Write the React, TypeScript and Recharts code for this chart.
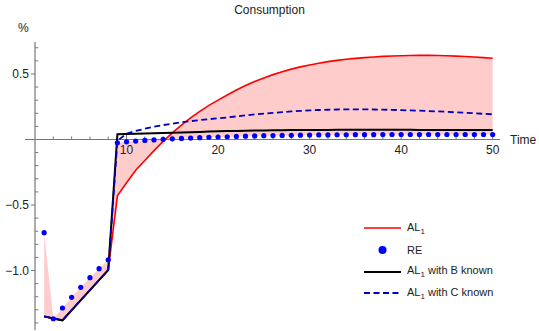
import { ComposedChart, Area, Line, XAxis, YAxis, ReferenceLine, ReferenceDot } from "recharts";

const time = [
  1, 2, 3, 4, 5, 6, 7, 8, 9, 10, 11, 12, 13, 14, 15, 16, 17, 18, 19, 20, 21, 22, 23, 24, 25,
  26, 27, 28, 29, 30, 31, 32, 33, 34, 35, 36, 37, 38, 39, 40, 41, 42, 43, 44, 45, 46, 47, 48, 49, 50,
];

// AL1
const al1 = [
  -1.35, -1.366, -1.38, -1.303, -1.226, -1.15, -1.073, -0.996, -0.43, -0.33,
  -0.235, -0.16, -0.085, -0.015, 0.05, 0.11, 0.165, 0.215, 0.26, 0.3,
  0.34, 0.378, 0.412, 0.443, 0.47, 0.495, 0.517, 0.537, 0.554, 0.569,
  0.582, 0.594, 0.604, 0.612, 0.619, 0.625, 0.63, 0.634, 0.637, 0.639,
  0.641, 0.642, 0.642, 0.641, 0.639, 0.636, 0.633, 0.629, 0.625, 0.62,
];

// RE
const re = [
  -0.711, -1.368, -1.286, -1.205, -1.128, -1.055, -0.986, -0.918, -0.025, -0.018,
  -0.012, -0.007, -0.003, 0.001, 0.005, 0.008, 0.011, 0.014, 0.017, 0.019,
  0.021, 0.023, 0.025, 0.027, 0.029, 0.03, 0.031, 0.032, 0.033, 0.034,
  0.035, 0.035, 0.036, 0.036, 0.037, 0.037, 0.037, 0.038, 0.038, 0.038,
  0.038, 0.038, 0.038, 0.038, 0.038, 0.038, 0.038, 0.038, 0.038, 0.038,
];

// AL1 with B known
const bKnown = [
  -1.35, -1.366, -1.38, -1.303, -1.226, -1.15, -1.073, -0.996, 0.04, 0.042,
  0.044, 0.046, 0.048, 0.05, 0.052, 0.054, 0.056, 0.058, 0.06, 0.062,
  0.064, 0.065, 0.067, 0.068, 0.069, 0.07, 0.071, 0.072, 0.072, 0.073,
  0.073, 0.073, 0.074, 0.074, 0.074, 0.074, 0.074, 0.074, 0.074, 0.074,
  0.074, 0.073, 0.073, 0.073, 0.073, 0.072, 0.072, 0.072, 0.072, 0.072,
];

// AL1 with C known
const cKnown = [
  -1.35, -1.366, -1.38, -1.303, -1.226, -1.15, -1.073, -0.996, -0.01, 0.045,
  0.065, 0.082, 0.097, 0.11, 0.121, 0.131, 0.14, 0.148, 0.155, 0.162,
  0.168, 0.176, 0.184, 0.191, 0.197, 0.203, 0.209, 0.214, 0.218, 0.222,
  0.225, 0.227, 0.229, 0.23, 0.23, 0.23, 0.229, 0.228, 0.226, 0.224,
  0.222, 0.22, 0.217, 0.214, 0.211, 0.207, 0.204, 0.2, 0.196, 0.192,
];

const xMajor = [10, 20, 30, 40, 50];
const xMinor = [2, 4, 6, 8, 12, 14, 16, 18, 22, 24, 26, 28, 32, 34, 36, 38, 42, 44, 46, 48];
const yMajor = [-1, -0.5, 0.5];
const yMinor = [-1.4, -1.3, -1.2, -1.1, -0.9, -0.8, -0.7, -0.6, -0.4, -0.3, -0.2, -0.1, 0.1, 0.2, 0.3, 0.4, 0.6, 0.7];

const data = time.map((t, i) => ({
  t,
  al1: al1[i],
  re: re[i],
  bKnown: bKnown[i],
  cKnown: cKnown[i],
  band: [re[i], al1[i]],
}));

const font = "'Liberation Sans', Arial, sans-serif";
const axisColor = "#777";
const textColor = "#222";

const fmt = (v: number) => (v < 0 ? "\u2212" + Math.abs(v).toFixed(1) : v.toFixed(1));

function LegendRow({ kind, label }: { kind: string; label: React.ReactNode }) {
  return (
    <div style={{ display: "flex", alignItems: "center", height: 21.7 }}>
      <svg width={37} height={10} style={{ marginRight: 6 }}>
        {kind === "red" && <line x1={0} y1={5} x2={37} y2={5} stroke="#ff0000" strokeWidth={1.6} />}
        {kind === "dot" && <circle cx={18.5} cy={5} r={4} fill="#0000ff" />}
        {kind === "black" && <line x1={0} y1={5} x2={37} y2={5} stroke="#000" strokeWidth={2} />}
        {kind === "dash" && (
          <line x1={0} y1={5} x2={37} y2={5} stroke="#0000b8" strokeWidth={1.8} strokeDasharray="6 3.5" />
        )}
      </svg>
      <span>{label}</span>
    </div>
  );
}

const AL = (
  <>
    AL<sub style={{ fontSize: 8, verticalAlign: "-3px" }}>1</sub>
  </>
);

export default function App() {
  return (
    <div
      style={{
        position: "absolute",
        left: 0,
        top: 0,
        width: 539,
        height: 331,
        background: "#fff",
        fontFamily: font,
        color: textColor,
      }}
    >
      <div style={{ position: "absolute", top: 3, left: 0, width: 539, textAlign: "center", fontSize: 12, lineHeight: "14px" }}>
        Consumption
      </div>
      <div style={{ position: "absolute", top: 21, left: 18, fontSize: 12, lineHeight: "14px" }}>%</div>

      <ComposedChart width={539} height={331} data={data} margin={{ top: 42, right: 39, bottom: 1, left: 0 }}>
        <XAxis dataKey="t" type="number" domain={[0, 50.8]} hide />
        <YAxis
          type="number"
          domain={[-1.454, 0.744]}
          ticks={yMajor}
          tickFormatter={fmt}
          width={35}
          tickSize={4}
          tickMargin={2}
          axisLine={{ stroke: axisColor, strokeWidth: 1.2 }}
          tickLine={{ stroke: axisColor }}
          tick={{ fontSize: 12, fill: textColor, fontFamily: font }}
          allowDataOverflow
        />

        <Area dataKey="band" stroke="none" fill="#ff0000" fillOpacity={0.2} isAnimationActive={false} />

        <ReferenceLine
          segment={[{ x: -1.1, y: 0 }, { x: 50.8, y: 0 }]}
          stroke={axisColor}
          strokeWidth={1.2}
          ifOverflow="visible"
        />
        {yMinor.map((v) => (
          <ReferenceLine key={"ym" + v} segment={[{ x: 0, y: v }, { x: 0.35, y: v }]} stroke={axisColor} ifOverflow="visible" />
        ))}
        {xMinor.map((v) => (
          <ReferenceLine key={"xm" + v} segment={[{ x: v, y: 0 }, { x: v, y: 0.023 }]} stroke={axisColor} ifOverflow="visible" />
        ))}
        {xMajor.map((v) => (
          <ReferenceLine key={"xM" + v} segment={[{ x: v, y: 0 }, { x: v, y: 0.04 }]} stroke={axisColor} ifOverflow="visible" />
        ))}
        {xMajor.map((v) => (
          <ReferenceDot
            key={"xl" + v}
            x={v}
            y={0}
            r={0}
            stroke="none"
            fill="none"
            ifOverflow="visible"
            label={{ value: String(v), position: "bottom", offset: 6, fontSize: 12, fill: textColor, fontFamily: font }}
          />
        ))}
        <ReferenceDot
          x={50.8}
          y={0}
          r={0}
          stroke="none"
          fill="none"
          ifOverflow="visible"
          label={{ value: "Time", position: "right", offset: 10, fontSize: 12, fill: textColor, fontFamily: font }}
        />

        <Line dataKey="al1" stroke="#ff0000" strokeWidth={1.6} dot={false} isAnimationActive={false} />
        <Line
          dataKey="re"
          stroke="none"
          dot={{ r: 2.6, fill: "#0000ff", stroke: "none" }}
          activeDot={false}
          isAnimationActive={false}
        />
        <Line dataKey="bKnown" stroke="#000" strokeWidth={2} dot={false} isAnimationActive={false} />
        <Line
          dataKey="cKnown"
          stroke="#0000b8"
          strokeWidth={1.8}
          strokeDasharray="6 3.5"
          dot={false}
          isAnimationActive={false}
        />
      </ComposedChart>

      <div style={{ position: "absolute", left: 364, top: 217.5, fontSize: 11 }}>
        <LegendRow kind="red" label={AL} />
        <LegendRow kind="dot" label="RE" />
        <LegendRow kind="black" label={<>{AL} with B known</>} />
        <LegendRow kind="dash" label={<>{AL} with C known</>} />
      </div>
    </div>
  );
}
